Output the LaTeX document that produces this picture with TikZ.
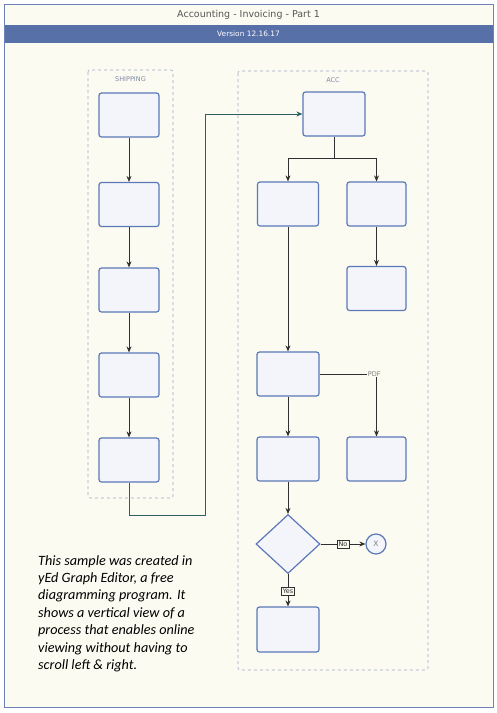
\documentclass[tikz,border=0pt]{standalone}
\usepackage{fontspec}
\setmainfont{DejaVu Sans}
\newfontfamily\notefont{Carlito}
\usetikzlibrary{arrows.meta,shapes.geometric}
\definecolor{bgcream}{HTML}{FBFBF1}
\definecolor{framebl}{HTML}{6E82B8}
\definecolor{bandbl}{HTML}{5870A8}
\definecolor{boxbl}{HTML}{5B78B8}
\definecolor{boxfill}{HTML}{F3F5FA}
\definecolor{grpcol}{HTML}{9FAAC6}
\definecolor{grptext}{HTML}{7D88A6}
\definecolor{linkcol}{HTML}{2E5E60}
\definecolor{arrcol}{HTML}{303030}
\tikzset{
  pbox/.style={draw=boxbl,line width=1.2pt,rounded corners=2.5pt,fill=boxfill,
    minimum width=60pt,minimum height=44pt,inner sep=0pt},
  grp/.style={draw=grpcol,dashed,line width=0.6pt,rounded corners=2pt},
  grplabel/.style={text=grptext,font=\fontsize{6.5}{7}\selectfont},
  arr/.style={draw=arrcol,line width=0.7pt,-{Stealth[length=6pt,width=5pt]}},
  link/.style={draw=linkcol,line width=0.8pt,-{Stealth[length=6pt,width=5pt]}},
  elabel/.style={draw=arrcol,line width=0.6pt,fill=bgcream,inner sep=1.5pt,
    text=arrcol,font=\fontsize{6.5}{7}\selectfont},
  plabel/.style={fill=bgcream,inner sep=1pt,text=gray,font=\fontsize{6.5}{7}\selectfont}
}
\begin{document}
\begin{tikzpicture}[x=1pt,y=-1pt]
\useasboundingbox (0,0) rectangle (497,713);
\fill[white] (0,0) rectangle (497,713);
% frame
\fill[bgcream] (4,4) rectangle (493,707);
\fill[bandbl] (4,25) rectangle (493,43);
\draw[framebl,line width=1pt] (4,4) rectangle (493,707);
\node (title) at (248.5,15) {\fontsize{9.5}{10}\selectfont\color[HTML]{555555}Accounting - Invoicing - Part 1};
\node (version) at (248.5,34) {\fontsize{7.4}{8}\selectfont\color{white}Version 12.16.17};
% groups
\draw[grp] (88,70) rectangle (173,498);
\node[grplabel] (shiplab) at (130.5,79) {SHIPPING};
\draw[grp] (238,71) rectangle (428,670);
\node[grplabel] (acclab) at (333,80) {ACC};
% shipping boxes
\node[pbox] (s1) at (129,115) {};
\node[pbox] (s2) at (129,204.5) {};
\node[pbox] (s3) at (129,290) {};
\node[pbox] (s4) at (129,375) {};
\node[pbox] (s5) at (129,460) {};
\draw[arr] (s1) -- (s2);
\draw[arr] (s2) -- (s3);
\draw[arr] (s3) -- (s4);
\draw[arr] (s4) -- (s5);
% ACC boxes
\node[pbox,minimum width=62pt] (b1) at (334,114) {};
\node[pbox,minimum width=61pt] (l1) at (288,204) {};
\node[pbox,minimum width=59pt] (r1) at (376.5,204) {};
\node[pbox,minimum width=59pt] (r2) at (376.5,288.5) {};
\node[pbox,minimum width=62pt] (l2) at (288,374) {};
\node[pbox,minimum width=62pt] (l3) at (288,459) {};
\node[pbox,minimum width=59pt] (r3) at (376.5,459) {};
\node[draw=boxbl,line width=1.2pt,fill=boxfill,diamond,minimum width=64pt,minimum height=59pt,inner sep=0pt] (d) at (288,544) {};
\node[draw=boxbl,line width=1.2pt,fill=boxfill,circle,minimum size=20pt,inner sep=0pt,text=gray,font=\fontsize{7.5}{8}\selectfont] (x) at (376,544) {X};
\node[pbox,minimum width=62pt,minimum height=45pt] (b9) at (288,629.5) {};
% connectors
\coordinate (c2) at (205,515);
\draw[link] (s5.south) |- (c2) |- (b1.west);
\coordinate (sp) at (334,158);
\draw[draw=arrcol,line width=0.7pt] (b1.south) -- (sp);
\draw[arr] (sp) -| (l1.north);
\draw[arr] (sp) -| (r1.north);
\draw[arr] (r1) -- (r2);
\draw[arr] (l1.south) -- (l2.north);
\draw[arr] (l2.east) -| node[plabel,pos=0.48] {PDF} (r3.north);
\draw[arr] (l2) -- (l3);
\draw[arr] (l3) -- (d);
\draw[arr] (d.east) -- node[elabel,pos=0.5] {No} (x.west);
\draw[arr] (d.south) -- node[elabel,pos=0.52] {Yes} (b9.north);
% note
\node[anchor=north west,align=left,inner sep=0pt,
  font=\notefont\itshape\fontsize{14.2}{17.4}\selectfont] (note) at (38,555)
  {This sample was created in\\yEd Graph Editor, a free\\diagramming program. It\\shows a vertical view of a\\process that enables online\\viewing without having to\\scroll left \& right.};
\end{tikzpicture}
\end{document}
